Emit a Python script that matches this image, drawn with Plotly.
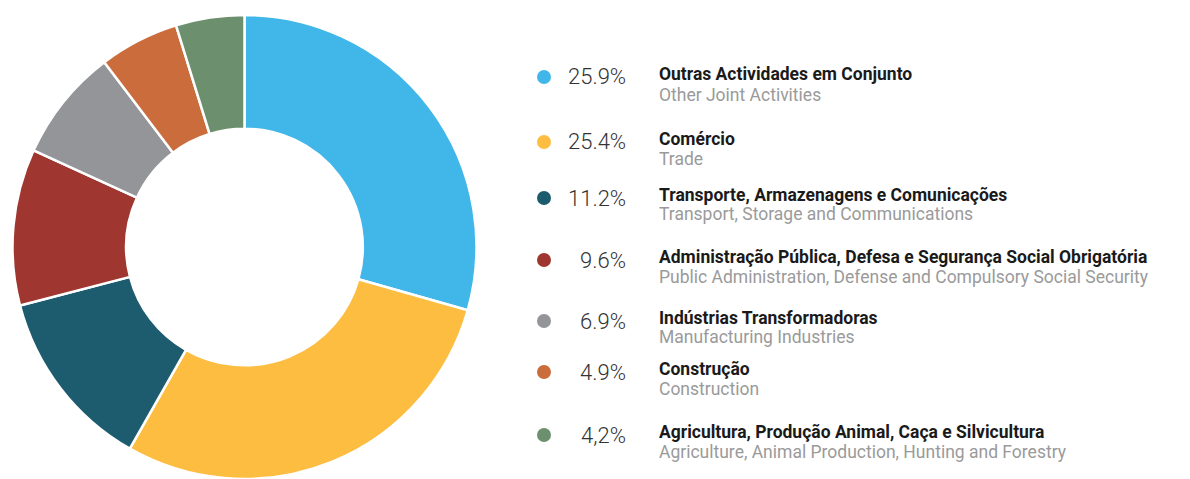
import plotly.graph_objects as go

categories_pt = [
    "Outras Actividades em Conjunto",
    "Comércio",
    "Transporte, Armazenagens e Comunicações",
    "Administração Pública, Defesa e Segurança Social Obrigatória",
    "Indústrias Transformadoras",
    "Construção",
    "Agricultura, Produção Animal, Caça e Silvicultura",
]
categories_en = [
    "Other Joint Activities",
    "Trade",
    "Transport, Storage and Communications",
    "Public Administration, Defense and Compulsory Social Security",
    "Manufacturing Industries",
    "Construction",
    "Agriculture, Animal Production, Hunting and Forestry",
]
values = [25.9, 25.4, 11.2, 9.6, 6.9, 4.9, 4.2]
pct_labels = ["25.9%", "25.4%", "11.2%", "9.6%", "6.9%", "4.9%", "4,2%"]
colors = ["#41B6E9", "#FDBD40", "#1D5C6E", "#A03630", "#939598", "#CB6C3D", "#6C8F6E"]

# page has an 8px body margin; figure sized to fill the rest of the window
OFF = 8
W, H = 1190 - OFF, 479 - OFF

fig = go.Figure()
cx, r, top = 244.5 - OFF, 234, 15 - OFF
fig.add_trace(go.Pie(
    labels=categories_pt,
    values=values,
    hole=0.51,
    sort=False,
    direction="clockwise",
    rotation=0,
    marker=dict(colors=colors, line=dict(color="white", width=2.5)),
    textinfo="none",
    hoverinfo="label+percent",
    showlegend=False,
    domain=dict(x=[(cx - r) / W, (cx + r) / W], y=[max(0, (H - top - 2 * r) / H), (H - top) / H]),
))

# legend rows (window pixel y of title centre, subtitle centre)
title_y = [74, 139, 195, 257, 318, 369, 432]
sub_y = [95, 159, 214, 277, 337, 389, 452]
dot_x = 544
dot_r = 7
pct_right = 628
text_left = 657


def px(x):
    return (x - OFF) / W


def py(y):
    return 1 - (y - OFF) / H


shapes = []
annotations = []
for i in range(len(values)):
    dy = title_y[i] + 3
    shapes.append(dict(
        type="circle", xref="paper", yref="paper",
        x0=px(dot_x - dot_r), x1=px(dot_x + dot_r),
        y0=py(dy + dot_r), y1=py(dy - dot_r),
        fillcolor=colors[i], line=dict(width=0),
    ))
    annotations.append(dict(
        x=px(pct_right), y=py(title_y[i] + 3), xref="paper", yref="paper",
        text=pct_labels[i], showarrow=False, xanchor="right", yanchor="middle",
        font=dict(family="Roboto", size=22, color="#333333", weight=300),
    ))
    annotations.append(dict(
        x=px(text_left), y=py(title_y[i]), xref="paper", yref="paper",
        text="<b>" + categories_pt[i] + "</b>", showarrow=False, xanchor="left", yanchor="middle",
        font=dict(family="Roboto", size=17.5, color="#1a1a1a"),
    ))
    annotations.append(dict(
        x=px(text_left), y=py(sub_y[i]), xref="paper", yref="paper",
        text=categories_en[i], showarrow=False, xanchor="left", yanchor="middle",
        font=dict(family="Roboto", size=17.5, color="#9a9a9a"),
    ))

fig.update_layout(
    width=W, height=H,
    margin=dict(l=0, r=0, t=0, b=0),
    paper_bgcolor="white", plot_bgcolor="white",
    shapes=shapes, annotations=annotations,
)

fig.write_html("out.html")
